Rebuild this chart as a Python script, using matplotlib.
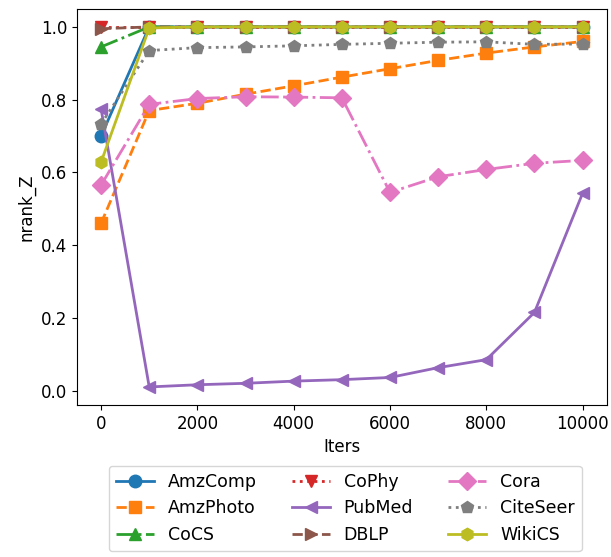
import matplotlib
matplotlib.use("Agg")
import matplotlib.pyplot as plt

# ==================================
# Data
# ==================================

iters = [0, 1000, 2000, 3000, 4000, 5000, 6000, 7000, 8000, 9000, 10000]

amz_comp = [0.70, 1.0, 1.0, 1.0, 1.0, 1.0, 1.0, 1.0, 1.0, 1.0, 1.0]
amz_photo = [0.46, 0.77, 0.79, 0.815, 0.838, 0.862, 0.885, 0.908, 0.928, 0.945, 0.96]
cocs = [0.945, 1.0, 1.0, 1.0, 1.0, 1.0, 1.0, 1.0, 1.0, 1.0, 1.0]
cophy = [1.0, 1.0, 1.0, 1.0, 1.0, 1.0, 1.0, 1.0, 1.0, 1.0, 1.0]
pubmed = [0.775, 0.01, 0.016, 0.02, 0.026, 0.030, 0.036, 0.063, 0.085, 0.215, 0.543]
dblp = [0.995, 1.0, 1.0, 1.0, 1.0, 1.0, 1.0, 1.0, 1.0, 1.0, 1.0]
cora = [0.565, 0.787, 0.803, 0.808, 0.807, 0.805, 0.545, 0.588, 0.608, 0.625, 0.633]
citeseer = [0.733, 0.935, 0.943, 0.945, 0.948, 0.952, 0.955, 0.958, 0.959, 0.952, 0.953]
wikics = [0.628, 0.997, 1.0, 1.0, 1.0, 1.0, 1.0, 1.0, 1.0, 1.0, 1.0]

series = [
    ("AmzComp", amz_comp, "o", "-"),
    ("AmzPhoto", amz_photo, "s", "--"),
    ("CoCS", cocs, "^", "-."),
    ("CoPhy", cophy, "v", ":"),
    ("PubMed", pubmed, "<", "-"),
    ("DBLP", dblp, ">", "--"),
    ("Cora", cora, "D", "-."),
    ("CiteSeer", citeseer, "p", ":"),
    ("WikiCS", wikics, "h", "-"),
]

# ==================================
# Plot
# ==================================

plt.rcParams["font.size"] = 12

fig = plt.figure(figsize=(6.11, 5.57), dpi=100)
ax = fig.add_axes([0.126, 0.273, 0.867, 0.711])

for name, vals, marker, ls in series:
    ax.plot(
        iters,
        vals,
        marker=marker,
        linestyle=ls,
        linewidth=2,
        markersize=9,
        label=name
    )

ax.set_xlabel("Iters")
ax.set_ylabel("nrank_Z")
ax.set_xticks([0, 2000, 4000, 6000, 8000, 10000])
ax.set_yticks([0.0, 0.2, 0.4, 0.6, 0.8, 1.0])

fig.legend(
    loc="lower center",
    bbox_to_anchor=(0.565, -0.005),
    ncol=3,
    fontsize=12.5,
    handlelength=2.2,
    columnspacing=2.0
)

fig.savefig("out.png", dpi=100)
